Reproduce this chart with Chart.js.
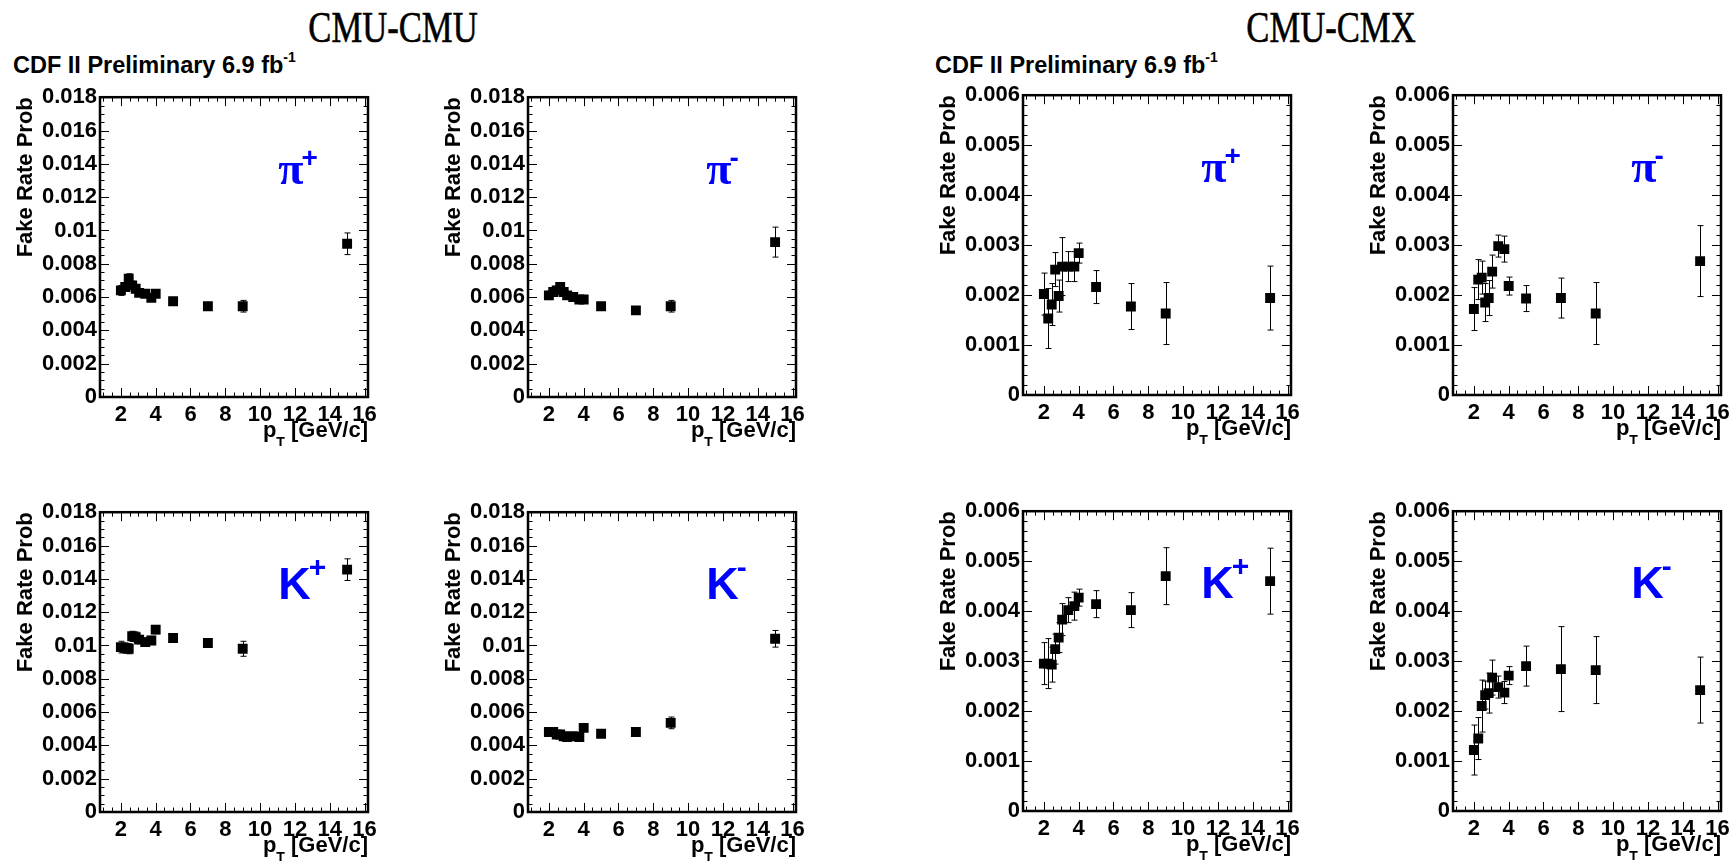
<!DOCTYPE html>
<html>
<head>
<meta charset="utf-8">
<title>CDF II fake rate probability</title>
<script src="https://cdn.jsdelivr.net/npm/chart.js@4"></script>
<style>
  body { margin: 0; width: 1733px; height: 863px; overflow: hidden; background: #fff; position: relative; font-family: "Liberation Sans", Arial, sans-serif; }
  canvas { position: absolute; }
  .group { position: absolute; top: 5px; width: 400px; text-align: center; font-family: "Liberation Serif", serif; font-size: 45px; line-height: 45px; transform: scaleX(0.77); -webkit-text-stroke: 0.6px #000; }
  .prelim { position: absolute; top: 54px; font-weight: bold; font-size: 23.5px; line-height: 23px; white-space: nowrap; }
  .prelim span { font-size: 14px; position: relative; top: -11px; }
</style>
</head>
<body>
<div class="group" style="left:193px">CMU-CMU</div>
<div class="group" style="left:1131px">CMU-CMX</div>
<div class="prelim" style="left:13px">CDF II Preliminary 6.9 fb<span>-1</span></div>
<div class="prelim" style="left:935px">CDF II Preliminary 6.9 fb<span>-1</span></div>

<canvas id="cmuPiP" width="384" height="365" style="left:0px;top:81px"></canvas>
<canvas id="cmuPiM" width="384" height="365" style="left:428px;top:81px"></canvas>
<canvas id="cmxPiP" width="384" height="365" style="left:923px;top:79px"></canvas>
<canvas id="cmxPiM" width="384" height="365" style="left:1353px;top:79px"></canvas>
<canvas id="cmuKP" width="384" height="365" style="left:0px;top:496px"></canvas>
<canvas id="cmuKM" width="384" height="365" style="left:428px;top:496px"></canvas>
<canvas id="cmxKP" width="384" height="365" style="left:923px;top:495px"></canvas>
<canvas id="cmxKM" width="384" height="365" style="left:1353px;top:495px"></canvas>

<script>
// pT bin centres (GeV/c), shared by every panel
const ptBins = [2.0, 2.25, 2.45, 2.65, 2.85, 3.05, 3.4, 3.75, 4.0, 5, 7, 9, 15];

// tick labels
const xTicks = [2, 4, 6, 8, 10, 12, 14, 16];
const yTicksCmu = [0, 0.002, 0.004, 0.006, 0.008, 0.01, 0.012, 0.014, 0.016, 0.018];
const yTicksCmx = [0, 0.001, 0.002, 0.003, 0.004, 0.005, 0.006];

// CMU-CMU fake rates and errors
const cmuPiPlus     = [0.0064, 0.0066, 0.0071, 0.0067, 0.0065, 0.00625, 0.0062, 0.00595, 0.0062, 0.00575, 0.00545, 0.00545, 0.0092];
const cmuPiPlusErr  = [0.0003, 0.00025, 0.0003, 0.00025, 0.00025, 0.0002, 0.0002, 0.0002, 0.0002, 0.00015, 0.00015, 0.00035, 0.00065];
const cmuPiMinus    = [0.0061, 0.0063, 0.0064, 0.0066, 0.0063, 0.0061, 0.006, 0.00585, 0.00585, 0.00545, 0.0052, 0.00545, 0.0093];
const cmuPiMinusErr = [0.00025, 0.00025, 0.00025, 0.00025, 0.0002, 0.0002, 0.0002, 0.0002, 0.00015, 0.00015, 0.00015, 0.00035, 0.0009];
const cmuKPlus      = [0.0099, 0.00985, 0.0098, 0.01055, 0.0105, 0.01035, 0.0102, 0.0103, 0.01095, 0.01045, 0.01015, 0.0098, 0.01455];
const cmuKPlusErr   = [0.00035, 0.0003, 0.0003, 0.0003, 0.0003, 0.00025, 0.00025, 0.00025, 0.00025, 0.0002, 0.0002, 0.00045, 0.00065];
const cmuKMinus     = [0.0048, 0.0048, 0.00465, 0.00465, 0.00455, 0.0045, 0.00455, 0.0045, 0.00505, 0.0047, 0.0048, 0.00535, 0.0104];
const cmuKMinusErr  = [0.0002, 0.0002, 0.0002, 0.0002, 0.0002, 0.0002, 0.0002, 0.0002, 0.0002, 0.00015, 0.00015, 0.00035, 0.0005];

// CMU-CMX fake rates and errors
const cmxPiPlus     = [0.00202, 0.00153, 0.00181, 0.00251, 0.00198, 0.00257, 0.00257, 0.00257, 0.00284, 0.00216, 0.00177, 0.00163, 0.00194];
const cmxPiPlusErr  = [0.00042, 0.0006, 0.00042, 0.00034, 0.00032, 0.00058, 0.0003, 0.0003, 0.0002, 0.00033, 0.00046, 0.00062, 0.00064];
const cmxPiMinus    = [0.00172, 0.00231, 0.00235, 0.00185, 0.00194, 0.00247, 0.00298, 0.00292, 0.00218, 0.00193, 0.00194, 0.00163, 0.00268];
const cmxPiMinusErr = [0.00043, 0.0004, 0.00033, 0.00038, 0.00035, 0.00033, 0.00022, 0.00026, 0.00018, 0.00026, 0.0004, 0.00062, 0.00071];
const cmxKPlus      = [0.00295, 0.00295, 0.00293, 0.00324, 0.00347, 0.00383, 0.00402, 0.0041, 0.00427, 0.00414, 0.00402, 0.0047, 0.0046];
const cmxKPlusErr   = [0.00042, 0.0005, 0.00035, 0.0003, 0.0003, 0.00032, 0.00025, 0.00028, 0.00017, 0.00027, 0.00035, 0.00057, 0.00066];
const cmxKMinus     = [0.00122, 0.00145, 0.0021, 0.00232, 0.00236, 0.00267, 0.00248, 0.00237, 0.00271, 0.0029, 0.00284, 0.00282, 0.00242];
const cmxKMinusErr  = [0.0005, 0.00042, 0.00052, 0.00028, 0.0004, 0.00035, 0.00022, 0.00022, 0.00018, 0.0004, 0.00085, 0.00067, 0.00066];

const FONT = '"Liberation Sans", Arial, sans-serif';

// ROOT-like frame: error bars, inward ticks on all four sides, pT title, particle label
const rootFrame = {
    id: 'rootFrame',
    beforeDatasetsDraw(chart, args, opts) {
        const {ctx, scales: {x, y}} = chart;
        ctx.save();
        ctx.strokeStyle = '#000';
        ctx.lineWidth = 1;
        ctx.beginPath();
        opts.values.forEach((v, i) => {
            const px = Math.round(x.getPixelForValue(ptBins[i])) + 0.5;
            const lo = y.getPixelForValue(v - opts.errors[i]);
            const hi = y.getPixelForValue(v + opts.errors[i]);
            ctx.moveTo(px, lo); ctx.lineTo(px, hi);
            ctx.moveTo(px - 3, lo); ctx.lineTo(px + 3, lo);
            ctx.moveTo(px - 3, hi); ctx.lineTo(px + 3, hi);
        });
        ctx.stroke();
        ctx.restore();
    },
    afterDraw(chart, args, opts) {
        const {ctx, chartArea: a, scales: {x, y}} = chart;
        ctx.save();
        ctx.strokeStyle = '#000';
        ctx.lineWidth = 1;
        ctx.beginPath();
        for (let k = 2; k <= 32; k++) {              // x ticks every 0.5
            const px = Math.round(x.getPixelForValue(k / 2)) + 0.5;
            const len = k % 4 === 0 ? 9 : 4.5;
            ctx.moveTo(px, a.bottom); ctx.lineTo(px, a.bottom - len);
            ctx.moveTo(px, a.top); ctx.lineTo(px, a.top + len);
        }
        for (let k = 0; k * opts.yMinor <= y.max + 1e-9; k++) {
            const py = Math.round(y.getPixelForValue(k * opts.yMinor)) + 0.5;
            const len = k % opts.yDiv === 0 ? 9 : 4.5;
            ctx.moveTo(a.left, py); ctx.lineTo(a.left + len, py);
            ctx.moveTo(a.right, py); ctx.lineTo(a.right - len, py);
        }
        ctx.stroke();
        ctx.lineWidth = 2.5;
        ctx.strokeRect(a.left, a.top, a.width, a.height);

        // p_T [GeV/c], right aligned under the axis
        ctx.fillStyle = '#000';
        ctx.textBaseline = 'alphabetic';
        ctx.textAlign = 'left';
        const big = 'bold 22px ' + FONT, small = 'bold 14px ' + FONT;
        ctx.font = big;
        const wP = ctx.measureText('p').width;
        const wRest = ctx.measureText(' [GeV/c]').width;
        ctx.font = small;
        const wT = ctx.measureText('T').width;
        let tx = a.right - (wP + wT + wRest);
        const base = a.bottom + 40;
        ctx.font = big; ctx.fillText('p', tx, base); tx += wP;
        ctx.font = small; ctx.fillText('T', tx, base + 10); tx += wT;
        ctx.font = big; ctx.fillText(' [GeV/c]', tx, base);

        // particle label
        const lx = a.left + 0.665 * a.width, ly = a.top + 0.29 * a.height;
        ctx.fillStyle = '#0000ff';
        ctx.font = opts.mainFont;
        ctx.fillText(opts.label, lx, ly);
        const w = ctx.measureText(opts.label).width;
        ctx.font = opts.supFont;
        ctx.fillText(opts.sup, lx + w - 2, ly + opts.supDy);
        ctx.restore();
    }
};

function makePanel(id, values, errors, yTicks, yMinor, yDiv, label, sup) {
    const isPi = label === 'π';
    new Chart(document.getElementById(id), {
        type: 'scatter',
        data: {
            datasets: [{
                data: ptBins.map((pt, i) => ({x: pt, y: values[i]})),
                pointStyle: 'rect',
                pointRadius: 7,
                pointHoverRadius: 7,
                backgroundColor: '#000',
                borderWidth: 0
            }]
        },
        options: {
            responsive: false,
            animation: false,
            devicePixelRatio: 1,
            events: [],
            layout: {padding: {left: 0, top: 16, right: 16, bottom: 0}},
            scales: {
                x: {
                    type: 'linear',
                    min: 0.8,
                    max: 16.2,
                    afterBuildTicks: s => { s.ticks = xTicks.map(v => ({value: v})); },
                    afterFit: s => { s.height = 49; },
                    grid: {display: false, drawTicks: false},
                    border: {display: false},
                    ticks: {
                        padding: 5,
                        color: '#000',
                        autoSkip: false,
                        maxRotation: 0,
                        font: {family: FONT, weight: 'bold', size: 22}
                    }
                },
                y: {
                    min: 0,
                    max: yTicks[yTicks.length - 1],
                    afterBuildTicks: s => { s.ticks = yTicks.map(v => ({value: v})); },
                    afterFit: s => { s.width = 100; },
                    grid: {display: false, drawTicks: false},
                    border: {display: false},
                    ticks: {
                        padding: 3,
                        color: '#000',
                        autoSkip: false,
                        font: {family: FONT, weight: 'bold', size: 22},
                        callback: v => String(Number(v.toFixed(3)))
                    },
                    title: {
                        display: true,
                        text: 'Fake Rate Prob',
                        align: 'end',
                        color: '#000',
                        padding: {top: 13},
                        font: {family: FONT, weight: 'bold', size: 22}
                    }
                }
            },
            plugins: {
                legend: {display: false},
                tooltip: {enabled: false},
                rootFrame: {
                    values: values,
                    errors: errors,
                    yMinor: yMinor,
                    yDiv: yDiv,
                    label: label,
                    sup: sup,
                    mainFont: isPi ? 'bold 46px "Liberation Serif", serif' : 'bold 45px ' + FONT,
                    supFont: isPi ? 'bold 28px ' + FONT : 'bold 30px ' + FONT,
                    supDy: isPi ? -17 : -22
                }
            }
        },
        plugins: [rootFrame]
    });
}

makePanel('cmuPiP', cmuPiPlus, cmuPiPlusErr, yTicksCmu, 0.0005, 4, 'π', '+');
makePanel('cmuPiM', cmuPiMinus, cmuPiMinusErr, yTicksCmu, 0.0005, 4, 'π', '-');
makePanel('cmxPiP', cmxPiPlus, cmxPiPlusErr, yTicksCmx, 0.0002, 5, 'π', '+');
makePanel('cmxPiM', cmxPiMinus, cmxPiMinusErr, yTicksCmx, 0.0002, 5, 'π', '-');
makePanel('cmuKP', cmuKPlus, cmuKPlusErr, yTicksCmu, 0.0005, 4, 'K', '+');
makePanel('cmuKM', cmuKMinus, cmuKMinusErr, yTicksCmu, 0.0005, 4, 'K', '-');
makePanel('cmxKP', cmxKPlus, cmxKPlusErr, yTicksCmx, 0.0002, 5, 'K', '+');
makePanel('cmxKM', cmxKMinus, cmxKMinusErr, yTicksCmx, 0.0002, 5, 'K', '-');
</script>
</body>
</html>
